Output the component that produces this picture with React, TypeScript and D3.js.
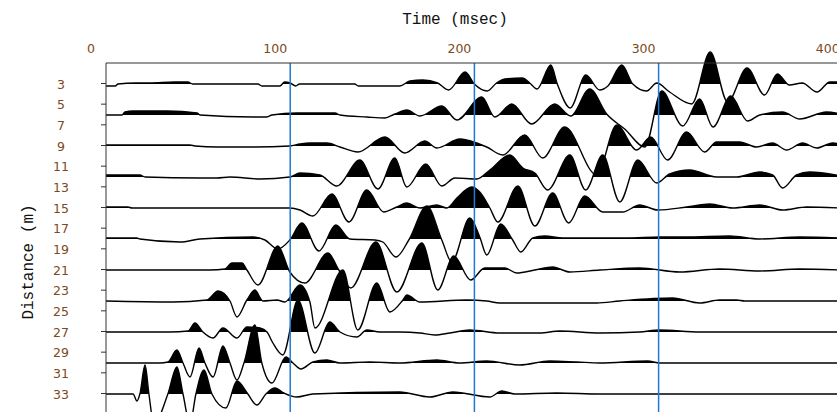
import React from "react";
import * as d3 from "d3";

// ---- data (time in msec, amplitude in trace units; + = up/filled) ----
const DISTANCES = [3, 6, 9, 12, 15, 18, 21, 24, 27, 30, 33];
const X_TICKS = [0, 100, 200, 300, 400];
const Y_TICKS = [3, 5, 7, 9, 11, 13, 15, 17, 19, 21, 23, 25, 27, 29, 31, 33];
const GRID_TIMES = [100, 200, 300];

const TRACE_03: [number, number][] = [[0,-2],[5,-2],[6.5,0],[16,1],[24,1],[37,2],[44.5,2],[47,0],[82.5,0],[84.6,-2],[94.4,-2],[97,2],[100,1],[103,-2],[105,0],[135,0],[137,-2],[159.5,-2],[165,3],[172,4],[180,1],[186,-6],[195,12],[200,0],[207,-7],[212,1],[216.5,5],[226,6],[230,1],[234,-5],[241.5,19],[245,0],[252,-24],[260.5,9],[268,-6],[272.5,-2],[280,19],[286,0],[293.5,-7],[299,1],[306,-8],[318,-20],[328,32],[337.5,-18],[348,16],[357.5,-11],[364.5,10],[371,-1],[378,1],[386,-8],[393,2],[399,2]];
const TRACE_06: [number, number][] = [[0,0],[8.7,0],[10.3,3],[14.7,4],[33.1,4],[49.4,2],[51,0],[79.8,-2],[87.4,-2],[90.1,0],[103.6,2],[124.3,2],[127,0],[141.6,-2],[151.4,-3],[156.8,1],[163.3,5],[170.4,-1],[182.3,9],[190.5,-5],[204,18],[211.1,-2],[220.3,11],[231.1,-9],[243.6,11],[252.3,-1],[262.6,26],[271.8,1],[281.6,-14],[292.5,-32],[301.7,24],[313.1,-11],[322.3,16],[329.5,-12],[339.2,19],[348.3,-6],[354.9,0],[367.3,3],[376.6,-4],[391.2,3],[399,1]];
const TRACE_09: [number, number][] = [[0,1],[45.6,1],[48.3,0],[60.8,-1],[75.4,-1],[99.8,0],[105.3,2],[110.7,3],[119.9,3],[127,-1],[136.7,-6],[151.4,9],[162.2,-7],[173.1,5],[179.6,-2],[192.1,7],[201.3,3],[206.7,-1],[215.4,-9],[227.3,11],[237.1,-12],[249,19],[266.4,-29],[277.3,21],[288.1,-4],[295.7,9],[304.9,-14],[315.2,14],[325,-6],[331.5,4],[344,4],[353.2,-1],[361.9,3],[369.5,-4],[378.2,3],[385.8,-2],[394.5,3],[399,2]];
const TRACE_12: [number, number][] = [[0,2],[18.4,2],[21.2,0],[51,-1],[60.2,-1],[67.3,0],[83.6,-2],[99.8,0],[105.3,4],[116.1,2],[125.3,-9],[137.8,17],[147.6,-12],[156.8,19],[163.3,-10],[173.6,13],[182.3,-9],[189.4,-1],[201.3,-2],[208.4,7],[219.2,22],[226.3,9],[232.8,4],[239.8,-13],[251.8,22],[260.4,-13],[269.7,22],[278.9,-25],[288.7,17],[299,-6],[306,3],[316.9,7],[331.5,0],[342.4,0],[354.9,5],[361.9,2],[367.3,-11],[374.9,2],[382,5],[399,1]];
const TRACE_15: [number, number][] = [[0,1],[11.9,1],[14.1,0],[99.8,0],[105.3,-2],[112.3,-8],[122.6,14],[131.9,-14],[141.6,18],[150.8,-4],[157.9,1],[163.3,5],[170.4,0],[179.6,3],[185,0],[190.5,10],[198.6,21],[202.9,16],[208.4,0],[212.7,-14],[223.6,22],[232.8,-18],[242.5,15],[251.2,-15],[259.9,12],[269.7,-4],[280.5,-4],[289.7,3],[299.5,-2],[315.2,1],[327.8,4],[340.2,0],[354.9,3],[367.3,-2],[380.4,1],[399,0]];
const TRACE_18: [number, number][] = [[0,1],[16.8,1],[18.4,0],[40.2,-3],[51,0],[79.8,2],[86.3,-1],[93.3,-10],[99.8,-1],[106.3,16],[115.6,-12],[124.8,14],[132.4,0],[146,-1],[150.3,-3],[157.4,-18],[164.4,-1],[174.2,33],[182.3,-1],[187.7,-23],[197.5,21],[202.9,2],[206.7,-16],[214.3,15],[220.8,-1],[225.2,-13],[231.7,1],[238.2,3],[248,1],[268.1,1],[282.7,1],[300.6,2],[315.2,2],[338.5,3],[354.9,0],[376.6,2],[399,1]];
const TRACE_21: [number, number][] = [[0,0],[56.4,0],[64.6,1],[68.4,7],[73.8,7],[76.5,0],[82.5,-15],[93.3,24],[99.8,-2],[108,-13],[120.5,17],[126.4,0],[132.9,-18],[146.5,28],[157.9,-22],[171.5,27],[180.1,-20],[188.8,14],[198,-10],[205.6,2],[216.5,2],[223,-3],[232.8,0],[242.5,3],[251.8,-2],[268.1,0],[289.7,2],[311.5,-2],[333.1,1],[354.9,-1],[376.6,1],[399,0]];
const TRACE_24: [number, number][] = [[0,0],[36.4,-1],[54.8,1],[60.8,10],[67.3,0],[71.1,-16],[76.5,1],[80.8,11],[85.2,0],[92.8,1],[97.1,-1],[105.3,16],[110.7,-1],[113.4,-27],[128.6,31],[136.7,-29],[147,18],[154.1,-11],[161.2,1],[163.3,6],[170.4,-1],[195.9,1],[206.7,0],[213.8,-2],[240.9,-2],[266.4,-2],[278.9,0],[307.6,3],[322.3,-2],[333.1,1],[342.4,1],[346.7,0],[399,0]];
const TRACE_27: [number, number][] = [[0,0],[26.6,0],[34.7,0],[44.5,1],[48.3,9],[52.6,0],[58.1,-6],[63.5,4],[71.1,-6],[76.5,5],[83.6,4],[87.4,0],[90.6,-11],[96,-23],[104.2,32],[113.4,-21],[121.5,10],[127,0],[136.2,-5],[141.6,2],[148.7,0],[159.5,0],[170.4,-1],[178.5,-3],[186.7,-1],[197.5,2],[213.8,-1],[235.5,-1],[246.3,1],[268.1,-1],[289.7,0],[300.6,2],[322.3,0],[399,0]];
const TRACE_30: [number, number][] = [[0,0],[29.3,0],[33.6,1],[38.5,13],[41.8,0],[45.6,-14],[50.5,15],[53.7,0],[58.1,-14],[63.5,17],[67.3,0],[71.1,-17],[74.9,0],[80.8,38],[84.6,0],[90.1,-20],[97.7,6],[101.5,0],[105.8,-6],[112.3,1],[119.9,3],[127,0],[143.2,1],[159.5,0],[179.6,3],[192.1,0],[206.7,2],[224.6,-2],[240.9,2],[255.6,1],[268.1,0],[294.1,2],[300.6,0],[399,0]];
const TRACE_33: [number, number][] = [[0,0],[14.7,0],[16.8,-7],[18.4,0],[21.2,29],[23.3,0],[26,-30],[33.6,0],[38.5,27],[41.8,0],[45.6,-30],[48.8,0],[53.2,24],[57.5,0],[65.1,-14],[71.1,13],[77,0],[81.9,-11],[86.8,0],[91.7,6],[96.6,1],[103.6,-3],[112.3,0],[159.5,2],[175.8,-3],[188.3,2],[208.4,-3],[214.9,3],[221.9,0],[244.7,1],[268.1,0],[399,0]];

const TRACES = [TRACE_03, TRACE_06, TRACE_09, TRACE_12, TRACE_15, TRACE_18, TRACE_21, TRACE_24, TRACE_27, TRACE_30, TRACE_33];

// ---- layout ----
const W = 837;
const H = 412;
const LEFT = 106;
const TOP = 63;

export default function App() {
  const x = d3.scaleLinear().domain([0, 400]).range([LEFT, LEFT + 4 * 184.2]);
  const y = d3.scaleLinear().domain([3, 33]).range([84, 394]);
  const gain = d3.scaleLinear().domain([0, 1]).range([0, 1]);

  return (
    <svg
      width={W}
      height={H}
      style={{ position: "absolute", left: 0, top: 0, background: "#fff" }}
    >
      <defs>
        {DISTANCES.map((d, i) => (
          <clipPath id={`pos${i}`} key={i}>
            <rect x={LEFT} y={0} width={W} height={y(d)} />
          </clipPath>
        ))}
        <clipPath id="plot">
          <rect x={LEFT} y={0} width={W - LEFT} height={H} />
        </clipPath>
      </defs>

      <text
        x={455}
        y={24}
        textAnchor="middle"
        fontFamily="'Liberation Mono', 'DejaVu Sans Mono', monospace"
        fontSize={16}
        fill="#111"
      >
        Time (msec)
      </text>
      <text
        transform="translate(33,262) rotate(-90)"
        textAnchor="middle"
        fontFamily="'Liberation Mono', 'DejaVu Sans Mono', monospace"
        fontSize={16}
        fill="#111"
      >
        Distance (m)
      </text>

      {X_TICKS.map((t) => (
        <text
          key={t}
          x={x(t) - 15}
          y={53}
          textAnchor="middle"
          fontFamily="Tahoma, 'DejaVu Sans', sans-serif"
          fontSize={12.5}
          fill="#7a4a1c"
        >
          {t}
        </text>
      ))}
      {Y_TICKS.map((d) => (
        <g key={d}>
          <line x1={LEFT - 5} x2={LEFT} y1={y(d) - 0.5} y2={y(d) - 0.5} stroke="#333" strokeWidth={1} />
          <text
            x={61}
            y={y(d) + 4.5}
            textAnchor="middle"
            fontFamily="Tahoma, 'DejaVu Sans', sans-serif"
            fontSize={12.5}
            fill="#7a4a1c"
          >
            {d}
          </text>
        </g>
      ))}

      <g clipPath="url(#plot)">
        {TRACES.map((tr, i) => {
          const base = y(DISTANCES[i]);
          const area = d3
            .area<[number, number]>()
            .x((p) => x(p[0]))
            .y0(base)
            .y1((p) => base - gain(p[1]))
            .curve(d3.curveMonotoneX);
          const line = d3
            .line<[number, number]>()
            .x((p) => x(p[0]))
            .y((p) => base - gain(p[1]))
            .curve(d3.curveMonotoneX);
          return (
            <g key={i}>
              <path d={area(tr) || ""} fill="#000" clipPath={`url(#pos${i})`} />
              <path d={line(tr) || ""} fill="none" stroke="#000" strokeWidth={1.4} />
            </g>
          );
        })}
      </g>

      {GRID_TIMES.map((t) => (
        <line key={t} x1={x(t)} x2={x(t)} y1={TOP} y2={H} stroke="#1f78d4" strokeWidth={1.5} />
      ))}

      <line x1={LEFT} x2={W} y1={TOP} y2={TOP} stroke="#333" strokeWidth={1} />
      <line x1={LEFT} x2={LEFT} y1={TOP} y2={H} stroke="#333" strokeWidth={1} />
    </svg>
  );
}
